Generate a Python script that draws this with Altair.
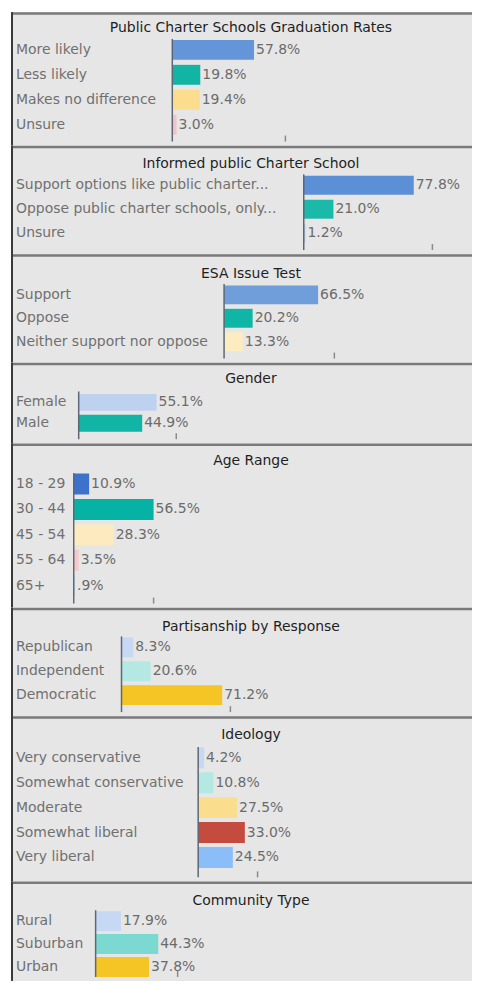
import altair as alt
import pandas as pd

# ---------------- data ----------------
grad_title = "Public Charter Schools Graduation Rates"
grad_cats = ["More likely", "Less likely", "Makes no difference", "Unsure"]
grad_vals = [57.8, 19.8, 19.4, 3.0]
grad_colors = ["#6495d9", "#12b4a4", "#fade8e", "#f2c4c4"]
grad_tick = 80

informed_title = "Informed public Charter School"
informed_cats = ["Support options like public charter...",
                 "Oppose public charter schools, only...", "Unsure"]
informed_vals = [77.8, 21.0, 1.2]
informed_colors = ["#5c90d6", "#1ab9a9", "#b8cde8"]
informed_tick = 91

esa_title = "ESA Issue Test"
esa_cats = ["Support", "Oppose", "Neither support nor oppose"]
esa_vals = [66.5, 20.2, 13.3]
esa_colors = ["#6f9edb", "#0fb5a5", "#fdecc2"]
esa_tick = 78

gender_title = "Gender"
gender_cats = ["Female", "Male"]
gender_vals = [55.1, 44.9]
gender_colors = ["#bed2ef", "#10b5a6"]
gender_tick = 69

age_title = "Age Range"
age_cats = ["18 - 29", "30 - 44", "45 - 54", "55 - 64", "65+"]
age_vals = [10.9, 56.5, 28.3, 3.5, 0.9]
age_colors = ["#3c72cc", "#05b2a4", "#fdebbf", "#f3c9c9", "#c5d7f2"]
age_tick = 56.5

party_title = "Partisanship by Response"
party_cats = ["Republican", "Independent", "Democratic"]
party_vals = [8.3, 20.6, 71.2]
party_colors = ["#c6d8f3", "#b4e9e3", "#f5c425"]
party_tick = 77

ideo_title = "Ideology"
ideo_cats = ["Very conservative", "Somewhat conservative", "Moderate",
             "Somewhat liberal", "Very liberal"]
ideo_vals = [4.2, 10.8, 27.5, 33.0, 24.5]
ideo_colors = ["#c6d8f3", "#b4e9e3", "#fadd8d", "#c44c3f", "#8bbdf9"]
ideo_tick = 42

comm_title = "Community Type"
comm_cats = ["Rural", "Suburban", "Urban"]
comm_vals = [17.9, 44.3, 37.8]
comm_colors = ["#c6d8f3", "#7bd9d1", "#f5c425"]
comm_tick = 58

# ---------------- layout ----------------
W = 463
PX = 1.42  # pixels per percent
FONT = "DejaVu Sans"
# (panel height, first row offset, row step, axis offset, title y, bar height)
layouts = [
    (134, 38, 25.0, 162, 16, 20),
    (109, 40, 24.0, 294, 19, 19),
    (109, 41, 23.5, 214, 20, 19),
    (81, 40, 21.0, 68, 17, 17),
    (165, 41, 25.5, 63, 18, 21),
    (109, 40, 24.0, 111, 20, 20),
    (166, 42, 25.0, 188, 19, 21),
    (100, 40, 23.0, 85, 20, 20),
]

specs = [
    (grad_title, grad_cats, grad_vals, grad_colors, grad_tick),
    (informed_title, informed_cats, informed_vals, informed_colors, informed_tick),
    (esa_title, esa_cats, esa_vals, esa_colors, esa_tick),
    (gender_title, gender_cats, gender_vals, gender_colors, gender_tick),
    (age_title, age_cats, age_vals, age_colors, age_tick),
    (party_title, party_cats, party_vals, party_colors, party_tick),
    (ideo_title, ideo_cats, ideo_vals, ideo_colors, ideo_tick),
    (comm_title, comm_cats, comm_vals, comm_colors, comm_tick),
]


def fmt(v):
    s = f"{v:.1f}%"
    return s[1:] if s.startswith("0") else s


def panel(title, cats, vals, colors, tick, layout):
    H, r0, s, off, ty, bh = layout
    half = bh / 2.0 / s
    df = pd.DataFrame({
        "cat": cats,
        "v": vals,
        "row": list(range(len(cats))),
    })
    df["y0"] = df["row"] - half
    df["y1"] = df["row"] + half
    df["zero"] = 0.0
    df["lab"] = [fmt(v) for v in vals]

    xs = alt.Scale(domain=[-off / PX, (W - off) / PX], nice=False, zero=False)
    ys = alt.Scale(domain=[-r0 / s, (H - r0) / s], reverse=True, nice=False, zero=False)

    base = alt.Chart(df)
    bars = base.mark_bar().encode(
        x=alt.X("zero:Q", scale=xs, axis=None),
        x2="v:Q",
        y=alt.Y("y0:Q", scale=ys, axis=None),
        y2="y1:Q",
        color=alt.Color("cat:N", scale=alt.Scale(domain=cats, range=colors), legend=None),
    )
    vlabels = base.mark_text(align="left", baseline="middle", dx=2, font=FONT,
                             fontSize=14, color="#6b6b6b").encode(
        x=alt.X("v:Q", axis=None),
        y=alt.Y("row:Q", axis=None),
        text="lab:N",
    )
    clabels = base.mark_text(align="left", baseline="middle", font=FONT,
                             fontSize=14, color="#707070").encode(
        x=alt.value(5),
        y=alt.Y("row:Q", axis=None),
        text="cat:N",
    )
    aux = pd.DataFrame({
        "x0": [0.0], "a0": [-11.0 / s], "a1": [(H - 4 - r0) / s],
        "t": [tick], "t0": [(H - 10 - r0) / s],
    })
    axis_line = alt.Chart(aux).mark_rule(color="#5d6775", strokeWidth=1.5).encode(
        x=alt.X("x0:Q", axis=None),
        y=alt.Y("a0:Q", axis=None),
        y2="a1:Q",
    )
    tick_mark = alt.Chart(aux).mark_rule(color="#8a8a8a", strokeWidth=1.5).encode(
        x=alt.X("t:Q", axis=None),
        y=alt.Y("t0:Q", axis=None),
        y2="a1:Q",
    )
    one = pd.DataFrame({"k": [0]})
    title_mark = alt.Chart(one).mark_text(align="center", baseline="middle", font=FONT,
                                          fontSize=14, color="#1f1f1f").encode(
        x=alt.value(241), y=alt.value(ty), text=alt.value(title)
    )
    top_line = alt.Chart(one).mark_rule(color="#7a7a7a", strokeWidth=2.5).encode(
        x=alt.value(0), x2=alt.value(W), y=alt.value(1.5)
    )
    left_line = alt.Chart(one).mark_rule(color="#3a3a3a", strokeWidth=2).encode(
        x=alt.value(1), y=alt.value(0), y2=alt.value(H)
    )
    return alt.layer(bars, vlabels, clabels, axis_line, tick_mark, title_mark,
                     top_line, left_line).properties(width=W, height=H)


panels = [panel(*sp, lay) for sp, lay in zip(specs, layouts)]

chart = alt.vconcat(*panels, spacing=0, bounds="flush").resolve_scale(
    x="independent", y="independent", color="independent"
).configure_view(stroke=None, fill="#e6e6e6").configure_concat(spacing=0).properties(
    padding={"left": 1, "top": 1, "right": 0, "bottom": 0}, background="white"
)

chart.save("out.html", embed_options={"renderer": "svg", "actions": False})
